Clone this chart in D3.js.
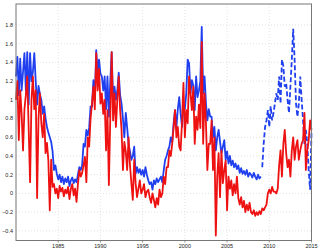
<!DOCTYPE html>
<html>
<head>
<meta charset="utf-8">
<script src="https://cdn.jsdelivr.net/npm/d3@7"></script>
<style>
  body { margin: 0; background: #fff; }
  svg { display: block; font-family: "Liberation Sans", Arial, sans-serif; }
</style>
</head>
<body>
<div class="stage"></div>
<script>
// bimonthly samples (6 per year)
var step = 1 / 6;

var redStart = 1980;
var redValues = [
  1.00, 1.20, 0.57, 1.10, 0.85, 0.46,   // 1980
  0.90, 1.05, 1.25, 0.70, 0.12, 1.00,   // 1981
  1.25, 0.90, 1.10, -0.05, 0.80, 1.07,  // 1982
  0.75, 0.60, 0.85, 0.43, 0.54, 0.35,   // 1983
  -0.18, 0.36, 0.07, 0.10, 0.00, 0.05,  // 1984
  -0.05, 0.08, 0.02, 0.06, -0.03, 0.04, // 1985
  0.00, 0.07, -0.06, 0.05, 0.10, -0.02, // 1986
  0.05, -0.09, 0.10, 0.25, 0.18, 0.22,  // 1987
  0.30, 0.39, 0.12, 0.60, 0.50, 0.80,   // 1988
  0.96, 1.14, 0.90, 1.50, 1.10, 1.33,   // 1989
  0.96, 1.07, 0.85, 1.00, 0.46, 0.89,   // 1990
  0.09, 0.80, 1.51, 0.78, 1.07, 0.71,   // 1991
  1.00, 1.25, 0.89, 0.68, 0.25, 0.55,   // 1992
  0.45, 0.25, 0.60, 0.30, 0.11, -0.07,  // 1993
  0.36, 0.11, -0.04, 0.05, 0.14, 0.00,  // 1994
  0.04, 0.10, -0.04, 0.02, 0.04, -0.04, // 1995
  -0.10, 0.00, -0.07, -0.15, -0.05, -0.12, // 1996
  0.04, -0.04, 0.00, 0.18, 0.10, 0.28,  // 1997
  0.28, 0.46, 0.40, 0.53, 0.70, 0.89,   // 1998
  0.60, 0.71, 0.50, 0.46, 0.78, 1.18,   // 1999
  0.60, 0.89, 0.75, 1.25, 1.07, 0.89,   // 2000
  1.14, 0.53, 0.82, 0.68, 0.95, 0.70,   // 2001
  1.62, 0.53, 1.07, 0.75, 0.25, 0.53,   // 2002
  0.53, 0.78, 0.25, 0.60, -0.45, 0.18,  // 2003
  0.43, -0.04, 0.46, 0.11, 0.25, 0.35,  // 2004
  -0.18, 0.18, 0.05, 0.14, -0.02, 0.10, // 2005
  0.00, 0.18, -0.05, -0.12, -0.04, -0.15, // 2006
  -0.08, -0.20, -0.12, -0.18, -0.10, -0.20, // 2007
  -0.22, -0.18, -0.24, -0.20, -0.23, -0.19, // 2008
  -0.22, -0.16, -0.18, -0.15, -0.12, 0.00,  // 2009
  0.04, 0.00, 0.07, 0.02, 0.02, 0.00,   // 2010
  0.05, 0.30, 0.46, 0.18, 0.53, 0.68,   // 2011
  0.43, 0.28, 0.36, 0.18, 0.46, 0.60,   // 2012
  0.36, 0.50, 0.57, 0.36, 0.46, 0.53,   // 2013
  0.57, 0.86, 0.25, 0.46, 0.57, 0.78,   // 2014
  0.68                                  // 2015
];

var blueStart = 1980;
var blueValues = [
  1.25, 1.46, 1.05, 1.44, 1.10, 1.30,   // 1980
  1.50, 1.10, 1.51, 0.95, 1.50, 1.20,   // 1981
  1.30, 1.50, 1.20, 0.95, 1.15, 1.06,   // 1982
  1.00, 0.85, 0.93, 0.80, 0.71, 0.65,   // 1983
  0.60, 0.55, 0.45, 0.25, 0.30, 0.21,   // 1984
  0.15, 0.20, 0.12, 0.18, 0.10, 0.16,   // 1985
  0.12, 0.18, 0.08, 0.14, 0.17, 0.11,   // 1986
  0.15, 0.12, 0.20, 0.28, 0.25, 0.30,   // 1987
  0.53, 0.50, 0.68, 0.62, 0.70, 0.93,   // 1988
  0.93, 1.21, 1.00, 1.53, 1.30, 1.43,   // 1989
  1.28, 1.25, 1.10, 1.25, 0.90, 1.25,   // 1990
  0.82, 1.20, 1.51, 1.00, 1.14, 1.00,   // 1991
  1.10, 1.29, 1.05, 0.96, 0.80, 0.60,   // 1992
  0.86, 0.70, 0.53, 0.45, 0.36, 0.40,   // 1993
  0.50, 0.21, 0.28, 0.22, 0.26, 0.20,   // 1994
  0.25, 0.18, 0.28, 0.20, 0.14, 0.10,   // 1995
  0.12, 0.04, 0.14, 0.10, 0.16, 0.12,   // 1996
  0.15, 0.18, 0.12, 0.25, 0.36, 0.40,   // 1997
  0.46, 0.50, 0.60, 0.55, 0.75, 0.89,   // 1998
  0.71, 0.90, 1.03, 0.85, 0.71, 0.95,   // 1999
  0.90, 1.07, 1.43, 1.39, 1.07, 1.21,   // 2000
  1.15, 0.89, 1.25, 1.03, 1.10, 1.20,   // 2001
  1.78, 1.07, 1.25, 0.96, 0.78, 0.90,   // 2002
  0.82, 0.82, 0.60, 0.71, 0.46, 0.60,   // 2003
  0.68, 0.55, 0.43, 0.50, 0.57, 0.36,   // 2004
  0.45, 0.32, 0.40, 0.30, 0.35, 0.28,   // 2005
  0.32, 0.26, 0.30, 0.22, 0.27, 0.21,   // 2006
  0.24, 0.20, 0.25, 0.18, 0.22, 0.20,   // 2007
  0.17, 0.22, 0.18, 0.15, 0.20, 0.16,   // 2008
  0.18                                  // 2009
];

// forecast part, drawn dashed
var dashStart = 2009 + 1 / 6;
var dashValues = [
  0.28, 0.53, 0.71, 0.78, 0.89,         // 2009
  0.71, 0.93, 0.78, 0.86, 0.96, 1.07,   // 2010
  1.00, 1.25, 0.96, 1.43, 1.36, 1.14,   // 2011
  1.18, 1.00, 0.86, 1.14, 1.43, 1.76,   // 2012
  1.43, 0.96, 0.82, 0.96, 1.25, 1.00,   // 2013
  0.78, 0.53, 0.68, 0.53, 0.25, 0.04,   // 2014
  0.65                                  // 2015
];

var xTicks = [1985, 1990, 1995, 2000, 2005, 2010, 2015];
var yTicks = [-0.4, -0.2, 0, 0.2, 0.4, 0.6, 0.8, 1, 1.2, 1.4, 1.6, 1.8];

var W = 320, H = 251;
var frame = {left: 16, right: 311.5, top: 4, bottom: 240.5};

var svg = d3.select(".stage").append("svg")
  .attr("width", W)
  .attr("height", H);

var x = d3.scaleLinear().domain([1980, 2015]).range([frame.left, frame.right]);
var y = d3.scaleLinear().domain([-0.5, 2.0]).range([240.2, 6.3]);

function toPoints(start, vals) {
  return vals.map(function(v, i) { return {t: start + i * step, v: v}; });
}

// grid
svg.append("g").selectAll("line.gy")
  .data(yTicks).enter().append("line")
  .attr("x1", frame.left).attr("x2", frame.right)
  .attr("y1", function(d) { return y(d); })
  .attr("y2", function(d) { return y(d); })
  .attr("stroke", "#dadada")
  .attr("stroke-width", 0.8)
  .attr("stroke-dasharray", "1,2");

svg.append("g").selectAll("line.gx")
  .data(xTicks.slice(0, -1)).enter().append("line")
  .attr("y1", frame.top).attr("y2", frame.bottom)
  .attr("x1", function(d) { return x(d); })
  .attr("x2", function(d) { return x(d); })
  .attr("stroke", "#dadada")
  .attr("stroke-width", 0.8)
  .attr("stroke-dasharray", "1,2");

var line = d3.line()
  .x(function(d) { return x(d.t); })
  .y(function(d) { return y(d.v); });

svg.append("path")
  .datum(toPoints(blueStart, blueValues))
  .attr("fill", "none")
  .attr("stroke", "#2040f0")
  .attr("stroke-width", 1.8)
  .attr("stroke-linejoin", "round")
  .attr("d", line);

svg.append("path")
  .datum(toPoints(dashStart, dashValues))
  .attr("fill", "none")
  .attr("stroke", "#2040f0")
  .attr("stroke-width", 1.8)
  .attr("stroke-dasharray", "5,2.5")
  .attr("d", line);

svg.append("path")
  .datum(toPoints(redStart, redValues))
  .attr("fill", "none")
  .attr("stroke", "#ee1111")
  .attr("stroke-width", 1.8)
  .attr("stroke-linejoin", "round")
  .attr("d", line);

// frame
svg.append("rect")
  .attr("x", frame.left).attr("y", frame.top)
  .attr("width", frame.right - frame.left)
  .attr("height", frame.bottom - frame.top)
  .attr("fill", "none")
  .attr("stroke", "#777")
  .attr("stroke-width", 1);

// tick labels
svg.append("g").selectAll("text.ty")
  .data(yTicks).enter().append("text")
  .attr("x", 13)
  .attr("y", function(d) { return y(d); })
  .attr("dy", "0.35em")
  .attr("text-anchor", "end")
  .attr("font-size", "5.5px")
  .attr("fill", "#222")
  .text(function(d) { return d3.format("")(d).replace("-", "\u2212"); });

svg.append("g").selectAll("line.tx")
  .data(xTicks).enter().append("line")
  .attr("x1", function(d) { return x(d); })
  .attr("x2", function(d) { return x(d); })
  .attr("y1", frame.bottom).attr("y2", frame.bottom + 2)
  .attr("stroke", "#777")
  .attr("stroke-width", 0.8);

svg.append("g").selectAll("text.tx")
  .data(xTicks).enter().append("text")
  .attr("x", function(d) { return x(d); })
  .attr("y", 247.5)
  .attr("text-anchor", "middle")
  .attr("font-size", "5.5px")
  .attr("fill", "#222")
  .text(function(d) { return d; });
</script>
</body>
</html>
